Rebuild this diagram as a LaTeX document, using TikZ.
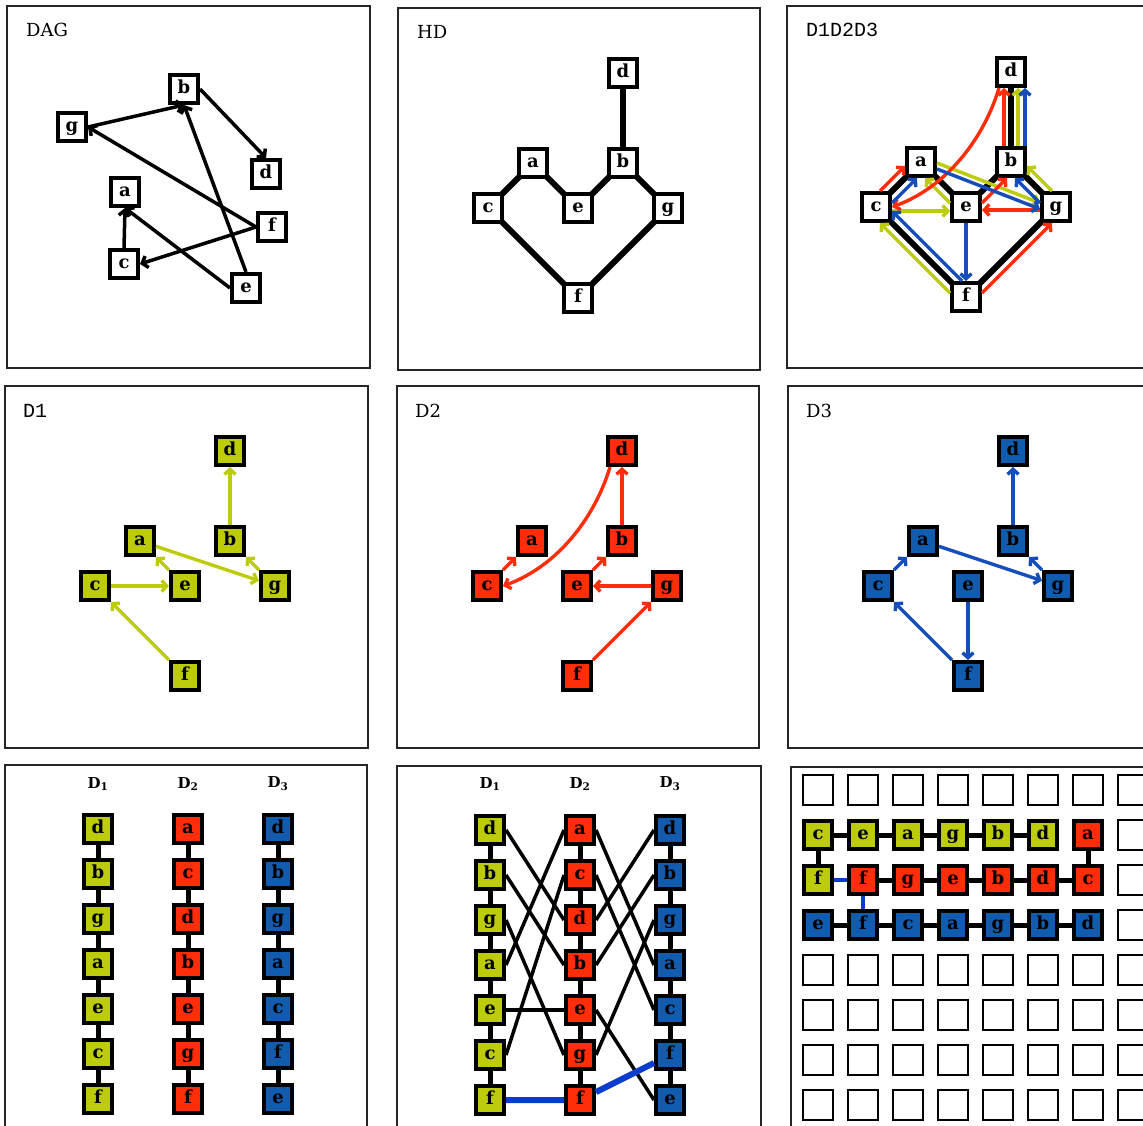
\documentclass[tikz,border=0pt]{standalone}
\usepackage{fontspec}
\setmainfont{DejaVu Serif}
\newfontfamily\typefont{Liberation Mono}
\usepackage{xcolor}
\usepackage{tikz}
\usetikzlibrary{arrows.meta, calc, backgrounds}

\definecolor{dOne}{RGB}{188,204,10}
\definecolor{dTwo}{RGB}{255,45,10}
\definecolor{dThree}{RGB}{18,92,175}
\definecolor{dArrow}{RGB}{22,78,185}
\definecolor{dJoin}{RGB}{10,60,205}

\begin{document}
\begin{tikzpicture}[
  x=1pt, y=-1pt,
  pane/.style={draw=black!85, line width=1.8pt},
  ttl/.style={anchor=base west, inner sep=0pt, font=\fontsize{18}{18}\selectfont},
  ttlmono/.style={anchor=base west, inner sep=0pt, font=\typefont\fontsize{20}{20}\selectfont},
  sq/.style={
    rectangle, draw=black, fill=white, line width=4pt,
    minimum size=28pt, inner sep=0pt,
    text height=12.6pt, text depth=3.4pt,
    font=\bfseries\fontsize{18}{18}\selectfont
  },
  void/.style={rectangle, draw=black, line width=2pt, minimum size=30pt},
  colhead/.style={font=\bfseries\fontsize{15}{15}\selectfont},
  hdl/.style={line width=6pt, draw=black},
  dagarr/.style={-{Straight Barb[length=5pt,width=12pt]}, line width=3.5pt},
  arr/.style={-{Straight Barb[length=5pt,width=11pt]}, line width=3.4pt},
  link/.style={line width=5pt, draw=black},
  cross/.style={line width=3.5pt, draw=black},
  bluelink/.style={line width=5pt, draw=dJoin}
]

\useasboundingbox (0,0) rectangle (1143,1125);
\clip (0,0) rectangle (1143,1125);

% ── DAG ───────────────────────────────────────────────────────
\begin{scope}[shift={(7,6)}]
\draw[pane] (0,0) rectangle (363,362);
\node[ttl] (dagT) at (19,30) {DAG};
\node[sq] (dag-b) at (177,83)  {b};
\node[sq] (dag-g) at (65,121)  {g};
\node[sq] (dag-d) at (259,168) {d};
\node[sq] (dag-a) at (118,186) {a};
\node[sq] (dag-f) at (265,221) {f};
\node[sq] (dag-c) at (117,258) {c};
\node[sq] (dag-e) at (239,282) {e};

\draw[dagarr] (dag-g.east)  -- (dag-b.south);
\draw[dagarr] (dag-b.east)  -- (dag-d.north);
\draw[dagarr] (dag-f.west)  -- (dag-g.east);
\draw[dagarr] (dag-e.north) -- (dag-b.south);
\draw[dagarr] (dag-e.west)  -- (dag-a.south);
\draw[dagarr] (dag-c.north) -- (dag-a.south);
\draw[dagarr] (dag-f.west)  -- (dag-c.east);
\end{scope}

% ── HD ────────────────────────────────────────────────────────
\begin{scope}[shift={(398,8)}]
\draw[pane] (0,0) rectangle (362,362);
\node[ttl] (hdT) at (19,30) {HD};
\node[sq] (hd-d) at (225,65)  {d};
\node[sq] (hd-a) at (135,155) {a};
\node[sq] (hd-b) at (225,155) {b};
\node[sq] (hd-c) at (90,200)  {c};
\node[sq] (hd-e) at (180,200) {e};
\node[sq] (hd-g) at (270,200) {g};
\node[sq] (hd-f) at (180,290) {f};

\begin{pgfonlayer}{background}
\draw[hdl] (hd-d.center) -- (hd-b.center);
\draw[hdl] (hd-c.center) -- (hd-a.center) -- (hd-e.center)
           -- (hd-b.center) -- (hd-g.center) -- (hd-f.center) -- cycle;
\end{pgfonlayer}
\end{scope}

% ── D1D2D3 ────────────────────────────────────────────────────
\begin{scope}[shift={(787,6)}]
\draw[pane] (0,0) rectangle (362,362);
\node[ttlmono] (mixT) at (19,30) {D1D2D3};
\node[sq] (mix-d) at (224,66)  {d};
\node[sq] (mix-a) at (134,156) {a};
\node[sq] (mix-b) at (224,156) {b};
\node[sq] (mix-c) at (89,201)  {c};
\node[sq] (mix-e) at (179,201) {e};
\node[sq] (mix-g) at (269,201) {g};
\node[sq] (mix-f) at (179,291) {f};

\begin{pgfonlayer}{background}
\draw[hdl] (mix-d.center) -- (mix-b.center);
\draw[hdl] (mix-c.center) -- (mix-a.center) -- (mix-e.center)
           -- (mix-b.center) -- (mix-g.center) -- (mix-f.center) -- cycle;
\end{pgfonlayer}

% D1
\draw[arr, dOne] ($(mix-b.north)+(7,0)$) -- ($(mix-d.south)+(7,0)$);
\draw[arr, dOne] ($(mix-e.north west)+(0,12)$) -- ($(mix-a.south east)+(-12,0)$);
\draw[arr, dOne] ($(mix-a.east)+(0,1)$) -- ($(mix-g.west)+(0,-4)$);
\draw[arr, dOne] ($(mix-g.north west)+(12,0)$) -- ($(mix-b.south east)+(0,-12)$);
\draw[arr, dOne] ($(mix-c.east)+(0,4)$) -- ($(mix-e.west)+(0,4)$);
\draw[arr, dOne] ($(mix-f.north west)+(0,12)$) -- ($(mix-c.south east)+(-12,0)$);
% D2
\draw[arr, dTwo] ($(mix-b.north)+(-7,0)$) -- ($(mix-d.south)+(-7,0)$);
\draw[arr, dTwo] ($(mix-d.south)+(-12,0)$)
  .. controls ($(mix-d.south)+(-27,50)$) and ($(mix-c.east)+(55,-20)$) .. (mix-c.east);
\draw[arr, dTwo] ($(mix-c.north east)+(-12,0)$) -- ($(mix-a.south west)+(0,-12)$);
\draw[arr, dTwo] ($(mix-e.north east)+(0,12)$) -- ($(mix-b.south west)+(12,0)$);
\draw[arr, dTwo] ($(mix-g.west)+(0,3)$) -- ($(mix-e.east)+(0,3)$);
\draw[arr, dTwo] ($(mix-f.north east)+(0,12)$) -- ($(mix-g.south west)+(12,0)$);
% D3
\draw[arr, dArrow] ($(mix-b.north)+(14,0)$) -- ($(mix-d.south)+(14,0)$);
\draw[arr, dArrow] ($(mix-c.north east)+(0,12)$) -- ($(mix-a.south west)+(12,0)$);
\draw[arr, dArrow] ($(mix-a.east)+(0,7)$) -- ($(mix-g.west)+(0,2)$);
\draw[arr, dArrow] ($(mix-g.north west)+(0,12)$) -- ($(mix-b.south east)+(-12,0)$);
\draw[arr, dArrow] (mix-e) -- (mix-f);
\draw[arr, dArrow] ($(mix-f.north west)+(12,0)$) -- ($(mix-c.south east)+(0,-12)$);
\end{scope}

% ── D1 ────────────────────────────────────────────────────────
\begin{scope}[shift={(5,386)}]
\draw[pane] (0,0) rectangle (363,362);
\node[ttlmono] (oneT) at (18,31) {D1};
\node[sq, fill=dOne] (one-d) at (225,65)  {d};
\node[sq, fill=dOne] (one-a) at (135,155) {a};
\node[sq, fill=dOne] (one-b) at (225,155) {b};
\node[sq, fill=dOne] (one-c) at (90,200)  {c};
\node[sq, fill=dOne] (one-e) at (180,200) {e};
\node[sq, fill=dOne] (one-g) at (270,200) {g};
\node[sq, fill=dOne] (one-f) at (180,290) {f};

\draw[arr, dOne] (one-b) -- (one-d);
\draw[arr, dOne] (one-e) -- (one-a);
\draw[arr, dOne] (one-a) -- (one-g);
\draw[arr, dOne] (one-g) -- (one-b);
\draw[arr, dOne] (one-c) -- (one-e);
\draw[arr, dOne] (one-f) -- (one-c);
\end{scope}

% ── D2 ────────────────────────────────────────────────────────
\begin{scope}[shift={(397,386)}]
\draw[pane] (0,0) rectangle (362,362);
\node[ttl] (twoT) at (18,31) {D2};
\node[sq, fill=dTwo] (two-d) at (225,65)  {d};
\node[sq, fill=dTwo] (two-a) at (135,155) {a};
\node[sq, fill=dTwo] (two-b) at (225,155) {b};
\node[sq, fill=dTwo] (two-c) at (90,200)  {c};
\node[sq, fill=dTwo] (two-e) at (180,200) {e};
\node[sq, fill=dTwo] (two-g) at (270,200) {g};
\node[sq, fill=dTwo] (two-f) at (180,290) {f};

\draw[arr, dTwo] (two-b) -- (two-d);
\draw[arr, dTwo] ($(two-d.south)+(-12,0)$)
  .. controls ($(two-d.south)+(-27,50)$) and ($(two-c.east)+(55,-20)$) .. (two-c.east);
\draw[arr, dTwo] (two-c) -- (two-a);
\draw[arr, dTwo] (two-e) -- (two-b);
\draw[arr, dTwo] (two-g) -- (two-e);
\draw[arr, dTwo] (two-f) -- (two-g);
\end{scope}

% ── D3 ────────────────────────────────────────────────────────
\begin{scope}[shift={(788,386)}]
\draw[pane] (0,0) rectangle (362,362);
\node[ttl] (thrT) at (18,31) {D3};
\node[sq, fill=dThree] (thr-d) at (225,65)  {d};
\node[sq, fill=dThree] (thr-a) at (135,155) {a};
\node[sq, fill=dThree] (thr-b) at (225,155) {b};
\node[sq, fill=dThree] (thr-c) at (90,200)  {c};
\node[sq, fill=dThree] (thr-e) at (180,200) {e};
\node[sq, fill=dThree] (thr-g) at (270,200) {g};
\node[sq, fill=dThree] (thr-f) at (180,290) {f};

\draw[arr, dArrow] (thr-b) -- (thr-d);
\draw[arr, dArrow] (thr-c) -- (thr-a);
\draw[arr, dArrow] (thr-a) -- (thr-g);
\draw[arr, dArrow] (thr-g) -- (thr-b);
\draw[arr, dArrow] (thr-e) -- (thr-f);
\draw[arr, dArrow] (thr-f) -- (thr-c);
\end{scope}

% ── Columnas ──────────────────────────────────────────────────
\begin{scope}[shift={(5,765)}]
\draw[pane] (0,0) rectangle (362,362);
\node[colhead] (s1T) at (93,19)  {D\textsubscript{1}};
\node[colhead] (s2T) at (183,19) {D\textsubscript{2}};
\node[colhead] (s3T) at (273,19) {D\textsubscript{3}};
\foreach \v [count=\k from 0] in {d,b,g,a,e,c,f}
  \node[sq, fill=dOne] (s1-\v) at (93,{64+45*\k}) {\v};
\foreach \v [count=\k from 0] in {a,c,d,b,e,g,f}
  \node[sq, fill=dTwo] (s2-\v) at (183,{64+45*\k}) {\v};
\foreach \v [count=\k from 0] in {d,b,g,a,c,f,e}
  \node[sq, fill=dThree] (s3-\v) at (273,{64+45*\k}) {\v};

\draw[link] (s1-d) -- (s1-b) -- (s1-g) -- (s1-a) -- (s1-e) -- (s1-c) -- (s1-f);
\draw[link] (s2-a) -- (s2-c) -- (s2-d) -- (s2-b) -- (s2-e) -- (s2-g) -- (s2-f);
\draw[link] (s3-d) -- (s3-b) -- (s3-g) -- (s3-a) -- (s3-c) -- (s3-f) -- (s3-e);
\end{scope}

% ── Cruces ────────────────────────────────────────────────────
\begin{scope}[shift={(397,766)}]
\draw[pane] (0,0) rectangle (364,362);
\node[colhead] (x1T) at (93,18)  {D\textsubscript{1}};
\node[colhead] (x2T) at (183,18) {D\textsubscript{2}};
\node[colhead] (x3T) at (273,18) {D\textsubscript{3}};
\foreach \v [count=\k from 0] in {d,b,g,a,e,c,f}
  \node[sq, fill=dOne] (x1-\v) at (93,{64+45*\k}) {\v};
\foreach \v [count=\k from 0] in {a,c,d,b,e,g,f}
  \node[sq, fill=dTwo] (x2-\v) at (183,{64+45*\k}) {\v};
\foreach \v [count=\k from 0] in {d,b,g,a,c,f,e}
  \node[sq, fill=dThree] (x3-\v) at (273,{64+45*\k}) {\v};

\draw[link] (x1-d) -- (x1-b) -- (x1-g) -- (x1-a) -- (x1-e) -- (x1-c) -- (x1-f);
\draw[link] (x2-a) -- (x2-c) -- (x2-d) -- (x2-b) -- (x2-e) -- (x2-g) -- (x2-f);
\draw[link] (x3-d) -- (x3-b) -- (x3-g) -- (x3-a) -- (x3-c) -- (x3-f) -- (x3-e);

\foreach \v in {a,b,c,d,e,g} {
  \draw[cross] (x1-\v.east) -- (x2-\v.west);
  \draw[cross] (x2-\v.east) -- (x3-\v.west);
}
\draw[bluelink, line width=6pt] (x1-f) -- (x2-f) -- (x3-f);
\end{scope}

% ── Rejilla ───────────────────────────────────────────────────
\begin{scope}[shift={(791,767)}]
\draw[pane] (0,0) rectangle (362,362);
\foreach \j in {0,4,5,6,7}
  \foreach \i in {0,...,7}
    \node[void] (e\i\j) at ({27+45*\i},{23+45*\j}) {};
\foreach \j in {1,2,3}
  \node[void] (e7\j) at (342,{23+45*\j}) {};

\foreach \v [count=\i from 0] in {c,e,a,g,b,d}
  \node[sq, fill=dOne] (q1-\v) at ({27+45*\i},68) {\v};
\node[sq, fill=dOne] (q1-f) at (27,113) {f};
\node[sq, fill=dTwo] (q2-a) at (297,68) {a};
\foreach \v [count=\i from 1] in {f,g,e,b,d,c}
  \node[sq, fill=dTwo] (q2-\v) at ({27+45*\i},113) {\v};
\foreach \v [count=\i from 0] in {e,f,c,a,g,b,d}
  \node[sq, fill=dThree] (q3-\v) at ({27+45*\i},158) {\v};

\draw[link] (q1-f) -- (q1-c) -- (q1-e) -- (q1-a) -- (q1-g) -- (q1-b) -- (q1-d);
\draw[link] (q2-a) -- (q2-c) -- (q2-d) -- (q2-b) -- (q2-e) -- (q2-g) -- (q2-f);
\draw[link] (q3-e) -- (q3-f) -- (q3-c) -- (q3-a) -- (q3-g) -- (q3-b) -- (q3-d);
\draw[bluelink, line width=4pt] (q1-f) -- (q2-f) -- (q3-f);
\end{scope}

\end{tikzpicture}
\end{document}
